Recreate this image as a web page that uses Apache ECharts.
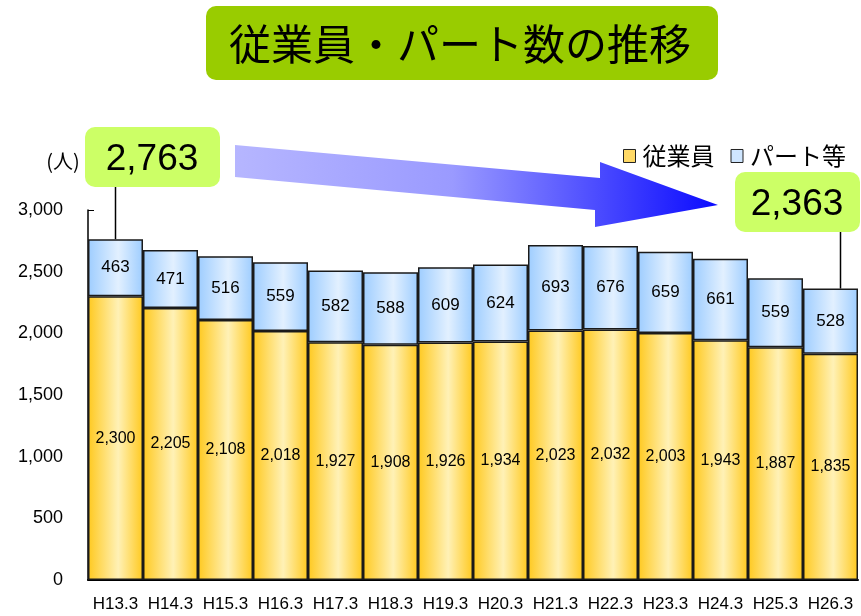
<!DOCTYPE html>
<html><head><meta charset="utf-8">
<script src="https://cdn.jsdelivr.net/npm/echarts@6/dist/echarts.min.js"></script>
<style>html,body{margin:0;padding:0;background:#fff}#c{width:861px;height:616px}</style>
</head><body><div id="c"></div>
<script>
const categories = ['H13.3','H14.3','H15.3','H16.3','H17.3','H18.3','H19.3','H20.3','H21.3','H22.3','H23.3','H24.3','H25.3','H26.3'];
const employees = [2300,2205,2108,2018,1927,1908,1926,1934,2023,2032,2003,1943,1887,1835];
const partTime = [463,471,516,559,582,588,609,624,693,676,659,661,559,528];
const yTicks = [0,500,1000,1500,2000,2500,3000];
const titleText = '従業員・パート数の推移';
const seriesNames = ['従業員','パート等'];
const unitText = '(人)';

const fmt = v => v.toLocaleString('en-US');
const totals = employees.map((e,i)=>e+partTime[i]);

const yellowGrad = new echarts.graphic.LinearGradient(0,0,1,0,[
  {offset:0,color:'#FFC91F'},{offset:0.55,color:'#FFF1B6'},{offset:1,color:'#FFC91F'}]);
const blueGrad = new echarts.graphic.LinearGradient(0,0,1,0,[
  {offset:0,color:'#9ECDFF'},{offset:0.55,color:'#E2F0FF'},{offset:1,color:'#9ECDFF'}]);

const chart = echarts.init(document.getElementById('c'), null, {renderer:'canvas'});
const font = 'Liberation Sans, Arial, sans-serif';
const cjk = '"Noto Sans CJK JP", sans-serif';

const option = {
  animation:false,
  grid:{left:88,right:3,top:210,bottom:36,containLabel:false},
  legend:{
    top:139,right:10,itemWidth:12,itemHeight:13,itemGap:16,
    textStyle:{fontFamily:cjk,fontSize:24,color:'#000',padding:[0,0,0,2]},
    data:[
      {name:seriesNames[0],icon:'rect',itemStyle:{color:'#FFD966',borderColor:'#222',borderWidth:1}},
      {name:seriesNames[1],icon:'rect',itemStyle:{color:'#CFE6FF',borderColor:'#222',borderWidth:1}}
    ]
  },
  xAxis:{
    type:'category',data:categories,
    axisLine:{lineStyle:{color:'#000',width:2}},
    axisTick:{show:false},
    axisLabel:{fontFamily:font,fontSize:17,color:'#000',margin:16,interval:0}
  },
  yAxis:{
    type:'value',min:0,max:3000,interval:500,
    axisLine:{show:true,lineStyle:{color:'#000',width:1.5}},
    axisTick:{show:true,inside:true,length:6,lineStyle:{color:'#000'}},
    splitLine:{show:false},
    axisLabel:{fontFamily:font,fontSize:18,color:'#000',margin:25,formatter:v=>fmt(v)}
  },
  series:[
    {name:seriesNames[0],type:'bar',stack:'s',data:employees,barCategoryGap:'0%',
     itemStyle:{color:yellowGrad,borderColor:'#1a1a1a',borderWidth:1.5},
     label:{show:true,position:'inside',formatter:p=>fmt(p.value),fontFamily:font,fontSize:16,color:'#000'}},
    {name:seriesNames[1],type:'bar',stack:'s',data:partTime,barCategoryGap:'0%',
     itemStyle:{color:blueGrad,borderColor:'#1a1a1a',borderWidth:1.5},
     label:{show:true,position:'inside',formatter:p=>fmt(p.value),fontFamily:font,fontSize:17,color:'#000'}}
  ]
};
chart.setOption(option);

const first = chart.convertToPixel({xAxisIndex:0,yAxisIndex:0},[0,totals[0]]);
const lastI = totals.length-1;
const last = chart.convertToPixel({xAxisIndex:0,yAxisIndex:0},[lastI,totals[lastI]]);

chart.setOption({graphic:[
  {type:'rect',shape:{x:206,y:6,width:512,height:74,r:10},style:{fill:'#99CC00'}},
  {type:'text',x:460,y:44,style:{text:titleText,fontFamily:cjk,fontSize:42,fontWeight:'normal',fill:'#000',align:'center',verticalAlign:'middle'}},
  {type:'text',x:63,y:161,style:{text:unitText,fontFamily:cjk,fontSize:20,fill:'#000',align:'center',verticalAlign:'middle'}},
  {type:'polygon',shape:{points:[[235,145],[600,178],[600,162],[718,205],[595,227],[595,210],[235,177]]},
   style:{fill:new echarts.graphic.LinearGradient(0,0,1,0,[{offset:0,color:'#B6B6FF'},{offset:0.45,color:'#9A9AFF'},{offset:1,color:'#0A0AFF'}])}},
  {type:'line',shape:{x1:first[0],y1:187,x2:first[0],y2:first[1]},style:{stroke:'#000',lineWidth:1.5}},
  {type:'rect',shape:{x:85,y:127,width:135,height:60,r:10},style:{fill:'#CCFF66'}},
  {type:'text',x:152,y:160,style:{text:fmt(totals[0]),fontFamily:font,fontSize:37,fill:'#000',align:'center',verticalAlign:'middle'}},
  {type:'line',shape:{x1:last[0]+10,y1:232,x2:last[0]+10,y2:last[1]},style:{stroke:'#000',lineWidth:1.5}},
  {type:'rect',shape:{x:735,y:172,width:125,height:60,r:10},style:{fill:'#CCFF66'}},
  {type:'text',x:797,y:205,style:{text:fmt(totals[lastI]),fontFamily:font,fontSize:37,fill:'#000',align:'center',verticalAlign:'middle'}}
]});
</script></body></html>
